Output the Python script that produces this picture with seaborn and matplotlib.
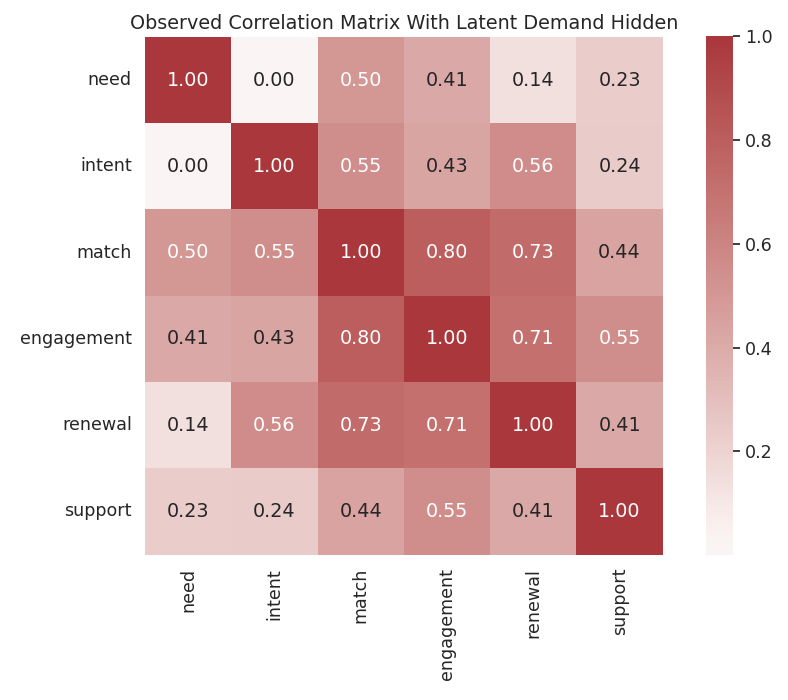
import numpy as np
import pandas as pd
import matplotlib.pyplot as plt
import seaborn as sns

labels = ["need", "intent", "match", "engagement", "renewal", "support"]
row_need = [1.00, 0.00, 0.50, 0.41, 0.14, 0.23]
row_intent = [0.00, 1.00, 0.55, 0.43, 0.56, 0.24]
row_match = [0.50, 0.55, 1.00, 0.80, 0.73, 0.44]
row_engagement = [0.41, 0.43, 0.80, 1.00, 0.71, 0.55]
row_renewal = [0.14, 0.56, 0.73, 0.71, 1.00, 0.41]
row_support = [0.23, 0.24, 0.44, 0.55, 0.41, 1.00]

corr = pd.DataFrame(
    [row_need, row_intent, row_match, row_engagement, row_renewal, row_support],
    index=labels, columns=labels,
)

sns.set_theme(style="white", font_scale=1.15)
fig = plt.figure(figsize=(7.88, 7.0), dpi=100)
ax = fig.add_axes([0.184, 0.207, 0.657, 0.741])
cax = fig.add_axes([0.896, 0.207, 0.034, 0.741])
sns.heatmap(corr, annot=True, fmt=".2f", cmap="vlag", center=0, square=True,
            ax=ax, cbar_ax=cax, cbar_kws={"ticks": [0.2, 0.4, 0.6, 0.8, 1.0]})
cax.tick_params(length=5)
ax.set_title("Observed Correlation Matrix With Latent Demand Hidden")
plt.savefig("out.png", dpi=100)
